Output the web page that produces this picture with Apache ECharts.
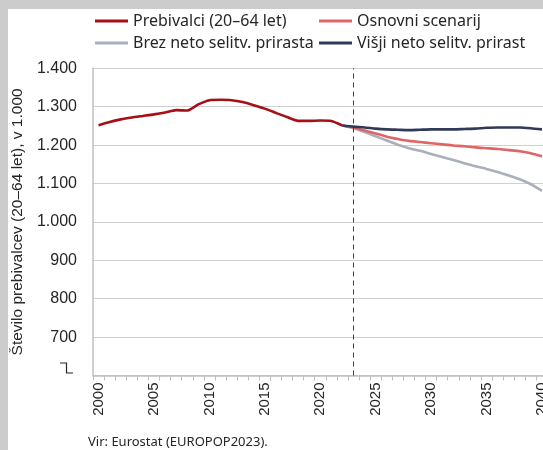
<!DOCTYPE html>
<html>
<head>
<meta charset="utf-8">
<script src="https://cdn.jsdelivr.net/npm/echarts@6/dist/echarts.min.js"></script>
<style>
html,body{margin:0;padding:0;background:#cccccc;overflow:hidden;width:543px;height:450px;}
#panel{position:absolute;left:8px;top:9px;width:535px;height:441px;background:#ffffff;}
#chart{position:absolute;left:0;top:0;width:620px;height:450px;}
</style>
</head>
<body>
<div id="panel"></div>
<div id="chart"></div>
<script>
const years = [];
for (let y = 2000; y <= 2040; y++) years.push(String(y));

const prebivalci = [1252, 1260, 1267, 1272, 1276, 1280, 1285, 1291, 1290, 1306, 1317, 1318, 1317, 1312, 1304, 1295, 1284, 1273, 1263, 1263, 1264, 1263, 1251];
const projYears = ['2022','2023','2024','2025','2026','2027','2028','2029','2030','2031','2032','2033','2034','2035','2036','2037','2038','2039','2040'];
const osnovni = [1251, 1246, 1238, 1230, 1222, 1216, 1211, 1208, 1205, 1202, 1199, 1197, 1194, 1192, 1190, 1187, 1184, 1179, 1171];
const brez    = [1251, 1244, 1234, 1223, 1212, 1201, 1192, 1185, 1177, 1169, 1161, 1153, 1145, 1138, 1130, 1121, 1111, 1098, 1081];
const visji   = [1251, 1248, 1246, 1243, 1241, 1240, 1239, 1240, 1241, 1241, 1241, 1242, 1243, 1245, 1246, 1246, 1246, 1244, 1241];

const yMin = 600, yMax = 1400, yStep = 100;
const names = ['Prebivalci (20–64 let)', 'Osnovni scenarij', 'Brez neto selitv. prirasta', 'Višji neto selitv. prirast'];
const colors = ['#a50f15', '#e06666', '#aab0bb', '#2e3a57'];

function pairs(xs, vs){ return xs.map((x,i)=>[x, vs[i]]); }

const legendFont = {fontFamily:'Noto Sans', fontSize:16, color:'#262626'};
function leg(name, left, top){
  return {data:[name], left:left, top:top, icon:'rect', itemWidth:33, itemHeight:3,
          textStyle:legendFont, padding:0, selectedMode:false};
}

const chart = echarts.init(document.getElementById('chart'), null, {renderer:'canvas'});
const option = {
  backgroundColor:'transparent',
  animation:false,
  legend:[leg(names[0],95,13), leg(names[1],319,13), leg(names[2],95,35), leg(names[3],319,35)],
  grid:{left:93, top:68.3, width:454.5, bottom:74.5, containLabel:false},
  xAxis:{
    type:'category', data:years, boundaryGap:true,
    axisLine:{lineStyle:{color:'#bfbfbf', width:1.5}},
    axisTick:{show:true, interval:0, length:5, lineStyle:{color:'#bfbfbf'}},
    axisLabel:{interval:4, rotate:90, margin:7, fontFamily:'Liberation Sans', fontSize:15, color:'#262626'},
    splitLine:{show:false}
  },
  yAxis:{
    type:'value', min:yMin, max:yMax, interval:yStep,
    name:'Število prebivalcev (20–64 let), v 1.000',
    nameLocation:'middle', nameRotate:90, nameGap:55,
    nameTextStyle:{fontFamily:'Liberation Sans', fontSize:15.5, color:'#262626'},
    axisLine:{show:true, lineStyle:{color:'#bfbfbf', width:1.5}},
    axisTick:{show:false},
    axisLabel:{margin:16, fontFamily:'Liberation Sans', fontSize:16, color:'#262626',
      formatter:function(v){ if (v === yMin) return ''; return String(v).replace(/\B(?=(\d{3})+(?!\d))/g,'.'); }},
    splitLine:{lineStyle:{color:'#d0d0d0', width:1.2}}
  },
  series:[
    {name:names[0], type:'line', data:prebivalci, showSymbol:false, smooth:0.2, z:5,
     lineStyle:{color:colors[0], width:2.6}, itemStyle:{color:colors[0]},
     markLine:{silent:true, symbol:'none', label:{show:false},
       lineStyle:{color:'#404040', type:[5,4], width:1},
       data:[{xAxis:'2023'}]}},
    {name:names[1], type:'line', data:pairs(projYears, osnovni), showSymbol:false, smooth:0.2, z:4,
     lineStyle:{color:colors[1], width:2.6}, itemStyle:{color:colors[1]}},
    {name:names[2], type:'line', data:pairs(projYears, brez), showSymbol:false, smooth:0.2, z:3,
     lineStyle:{color:colors[2], width:2.6}, itemStyle:{color:colors[2]}},
    {name:names[3], type:'line', data:pairs(projYears, visji), showSymbol:false, smooth:0.2, z:6,
     lineStyle:{color:colors[3], width:2.6}, itemStyle:{color:colors[3]}}
  ]
};
chart.setOption(option);

const yb = chart.convertToPixel({yAxisIndex:0}, yMin);
chart.setOption({graphic:[
  {type:'polyline', shape:{points:[[60, yb-12.5],[66.5, yb-12.5],[66.5, yb-2.5],[73, yb-2.5]]},
   style:{stroke:'#262626', lineWidth:1.2, fill:null}, silent:true},
  {type:'text', left:88, top:436, style:{text:'Vir: Eurostat (EUROPOP2023).', fontFamily:'Noto Sans', fontSize:13, fill:'#262626'}}
]});
</script>
</body>
</html>
